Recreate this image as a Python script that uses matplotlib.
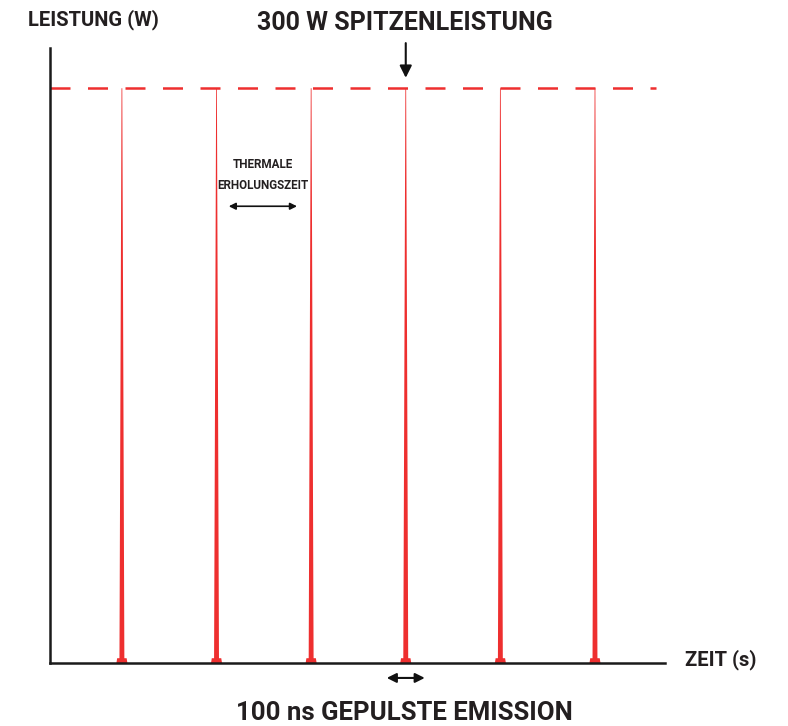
import matplotlib

matplotlib.use("Agg")
import matplotlib.pyplot as plt
from matplotlib.patches import Polygon

plt.rcParams['font.family'] = ['Roboto', 'DejaVu Sans']

# pulse times (arbitrary time units) and peak power (W)
pulse_times = [0.76, 1.76, 2.76, 3.76, 4.76, 5.76]
peak_power = 300
title_text = "300 W SPITZENLEISTUNG"
y_label = "LEISTUNG (W)"
x_label = "ZEIT (s)"
recovery_text = ["THERMALE", "ERHOLUNGSZEIT"]
pulse_text = "100 ns GEPULSTE EMISSION"

red = "#ee2f2f"
ink = "#231f20"

fig = plt.figure(figsize=(7.88, 7.26), dpi=100)
ax = fig.add_axes([50 / 788, 63 / 726, 615 / 788, 615 / 726])
ax.set_xlim(0, 6.5)
ax.set_ylim(0, 321)
for s in ["top", "right"]:
    ax.spines[s].set_visible(False)
for s in ["left", "bottom"]:
    ax.spines[s].set_linewidth(1.8)
    ax.spines[s].set_color("#1a1a1a")
ax.set_xticks([])
ax.set_yticks([])

# peak power line
ax.plot([0, 6.4], [peak_power, peak_power], color=red, lw=1.8,
        dashes=(8, 7), zorder=1)

# pulses: thin spikes with a small foot
for t in pulse_times:
    spike = Polygon([(t - 0.026, 1), (t - 0.004, peak_power),
                     (t + 0.004, peak_power), (t + 0.026, 1)],
                    closed=True, color=red, lw=0, zorder=2)
    ax.add_patch(spike)
    foot = Polygon([(t - 0.058, 0), (t - 0.05, 2.5), (t + 0.05, 2.5),
                    (t + 0.058, 0)], closed=True, color=red, lw=0, zorder=2)
    ax.add_patch(foot)

ax.text(3.75, 334, title_text, ha="center", va="center", fontsize=18,
        fontweight="bold", color=ink, clip_on=False)
ax.annotate("", xy=(3.76, 304), xytext=(3.76, 325),
            arrowprops=dict(arrowstyle="-|>", color="#111111", lw=1.5,
                            mutation_scale=18), annotation_clip=False)

ax.text(-0.23, 336, y_label, ha="left", va="center", fontsize=14.5,
        fontweight="bold", color=ink, clip_on=False)
ax.text(6.71, 1.5, x_label, ha="left", va="center", fontsize=14.5,
        fontweight="bold", color=ink, clip_on=False)

ax.text(2.25, 260, recovery_text[0], ha="center", va="center", fontsize=8.4,
        fontweight="bold", color=ink)
ax.text(2.25, 249, recovery_text[1], ha="center", va="center", fontsize=8.4,
        fontweight="bold", color=ink)
ax.annotate("", xy=(1.86, 238.4), xytext=(2.64, 238.4),
            arrowprops=dict(arrowstyle="<|-|>", color="#111111", lw=1.2,
                            mutation_scale=10))

ax.annotate("", xy=(3.53, -7.8), xytext=(3.99, -7.8),
            arrowprops=dict(arrowstyle="<|-|>", color="#111111", lw=1.5,
                            mutation_scale=14), annotation_clip=False)
ax.text(3.75, -26, pulse_text, ha="center", va="center", fontsize=18.5,
        fontweight="bold", color=ink, clip_on=False)

fig.savefig("out.png", dpi=100)
